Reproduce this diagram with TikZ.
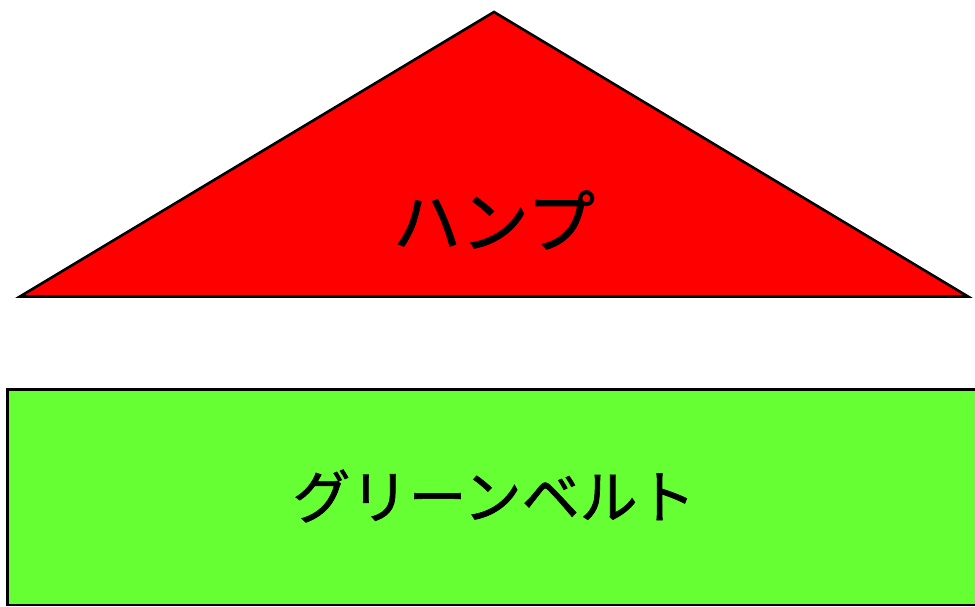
\documentclass[tikz,border=0pt]{standalone}
\usepackage{fontspec}
\newfontfamily\jpfont[RawFeature={embolden=1.2}]{Noto Sans CJK JP}
\definecolor{humpred}{HTML}{FF0000}
\definecolor{beltgreen}{HTML}{66FF33}
\tikzset{
  shapeline/.style={draw=black, line width=2.6pt, line join=miter},
  label/.style={inner sep=0pt, anchor=center}
}
\begin{document}
\begin{tikzpicture}[x=1pt,y=-1pt]
\useasboundingbox (0,0) rectangle (975,607);
\coordinate (apex) at (494,12);
\coordinate (bl) at (20,296.5);
\coordinate (br) at (968,296.5);
\filldraw[shapeline, fill=humpred] (bl) -- (apex) -- (br) -- cycle;
\filldraw[shapeline, fill=beltgreen] (7.5,389.5) rectangle (985,605);
\node[label, font=\jpfont\fontsize{68}{76}\selectfont] (hump) at (494,220) {ハンプ};
\node[label, font=\jpfont\fontsize{58}{66}\selectfont] (belt) at (494,496) {グリーンベルト};
\end{tikzpicture}
\end{document}
